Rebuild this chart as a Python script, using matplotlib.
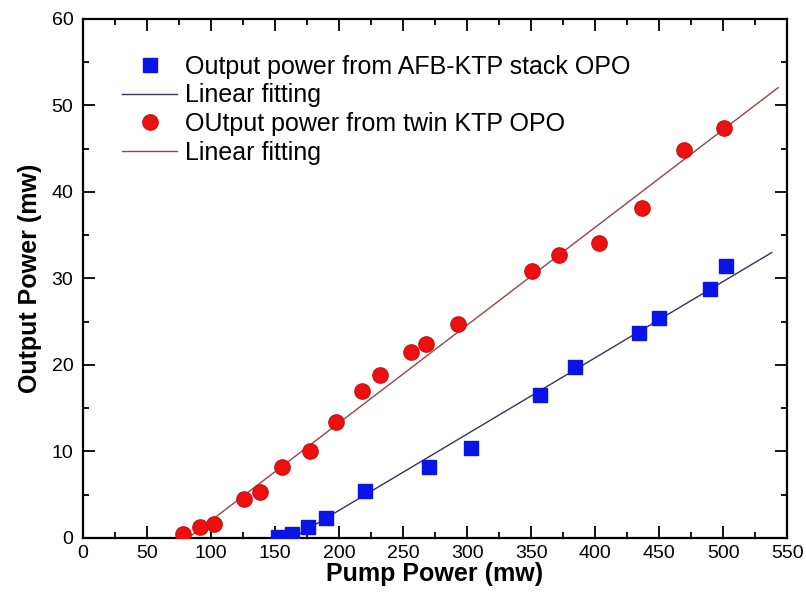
import matplotlib
matplotlib.use('Agg')
import matplotlib.pyplot as plt
import numpy as np
from matplotlib.ticker import MultipleLocator

plt.rcParams['font.family'] = ['Liberation Sans', 'DejaVu Sans']

# AFB-KTP stack OPO (blue squares)
stack_pump = [152, 163, 176, 190, 220, 270, 303, 357, 384, 434, 450, 490, 502]
stack_out = [0.1, 0.5, 1.3, 2.35, 5.4, 8.2, 10.4, 16.55, 19.8, 23.7, 25.45, 28.75, 31.4]
stack_fit = (0.0882, -14.46)   # slope, intercept
stack_fit_range = (150, 538)

# twin KTP OPO (red circles)
twin_pump = [78, 91, 102, 125.5, 138, 155.5, 177, 198, 218, 232, 256, 268, 293,
             350.5, 372, 403, 437, 469.5, 501]
twin_out = [0.5, 1.25, 1.6, 4.45, 5.25, 8.15, 10.1, 13.4, 17.0, 18.8, 21.5, 22.4, 24.7,
            30.9, 32.7, 34.1, 38.2, 44.9, 47.4]
twin_fit = (0.113, -9.3)
twin_fit_range = (78, 543)

fig = plt.figure(figsize=(8.06, 6.03), dpi=100)
ax = fig.add_axes([0.103, 0.108, 0.8735, 0.8605])

xs = np.array(stack_fit_range)
ax.plot(stack_pump, stack_out, 's', color='#0a14e6', ms=9.5, mec='#0a14e6',
        label='Output power from AFB-KTP stack OPO', zorder=3)
ax.plot(xs, stack_fit[0] * xs + stack_fit[1], '-', color='#34345a', lw=1,
        label='Linear fitting', zorder=2)
xt = np.array(twin_fit_range)
ax.plot(twin_pump, twin_out, 'o', color='#ee1010', ms=11, mec='#d01010',
        label='OUtput power from twin KTP OPO', zorder=3)
ax.plot(xt, twin_fit[0] * xt + twin_fit[1], '-', color='#8a4a4a', lw=1,
        label='Linear fitting', zorder=2)

ax.set_xlim(0, 550)
ax.set_ylim(0, 60)
ax.xaxis.set_major_locator(MultipleLocator(50))
ax.xaxis.set_minor_locator(MultipleLocator(25))
ax.yaxis.set_major_locator(MultipleLocator(10))
ax.yaxis.set_minor_locator(MultipleLocator(5))
ax.tick_params(which='both', direction='in', top=True, right=True, width=1.3,
               labelsize=14, colors='black')
ax.tick_params(which='major', length=8.5)
ax.tick_params(axis='x', which='major', pad=5)
ax.tick_params(axis='y', which='major', pad=7)
ax.tick_params(which='minor', length=4.5)
for s in ax.spines.values():
    s.set_linewidth(1.6)

ax.set_xlabel('Pump Power (mw)', fontsize=18, fontweight='bold', labelpad=0)
ax.set_ylabel('Output Power (mw)', fontsize=18, fontweight='bold', labelpad=7)

ax.legend(loc='upper left', frameon=False, fontsize=18, bbox_to_anchor=(0.031, 0.965),
          handlelength=2.2, handletextpad=0.3, labelspacing=0.19, borderaxespad=0.3)

fig.savefig('out.png', dpi=100)
